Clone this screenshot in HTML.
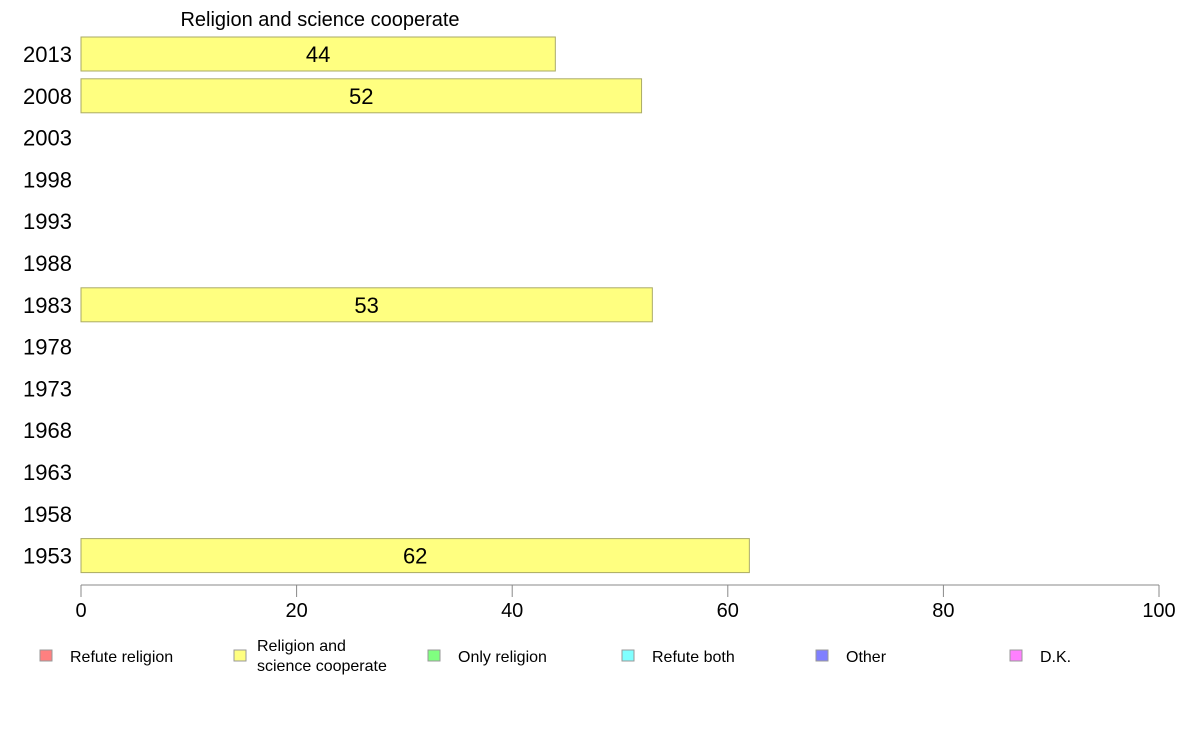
<!DOCTYPE html>
<html><head><meta charset="utf-8"><style>
body{margin:0;background:#fff;font-family:"Liberation Sans",Arial,sans-serif}
svg text{font-family:"Liberation Sans",Arial,sans-serif}
</style></head><body>
<svg id="chart" width="1188" height="736" xmlns="http://www.w3.org/2000/svg">
<text x="320" y="26" font-size="20" text-anchor="middle">Religion and science cooperate</text>
<g id="bars"></g><g id="ylabels"></g><g id="xaxis"></g><g id="legend"></g>
</svg>
<script>
const years=["2013","2008","2003","1998","1993","1988","1983","1978","1973","1968","1963","1958","1953"];
const values=[44,52,null,null,null,null,53,null,null,null,null,null,62];
const xTicks=[0,20,40,60,80,100];
const legendLabels=[["Refute religion"],["Religion and","science cooperate"],["Only religion"],["Refute both"],["Other"],["D.K."]];
const legendColors=["#ff8080","#ffff80","#80ff80","#80ffff","#8080ff","#ff80ff"];
const NS="http://www.w3.org/2000/svg";
const x=v=>81+v*10.78;
const yc=i=>54+i*41.8;
const bh=34;
function mk(t,a,p){const e=document.createElementNS(NS,t);for(const k in a)e.setAttribute(k,a[k]);p.appendChild(e);return e;}
const gb=document.getElementById('bars'),gy=document.getElementById('ylabels'),gx=document.getElementById('xaxis'),gl=document.getElementById('legend');
years.forEach((yr,i)=>{
 const t=mk('text',{x:72,y:yc(i)+8,'font-size':22,'text-anchor':'end'},gy);t.textContent=yr;
 
 
 const v=values[i];
 if(v!=null){
  const r=mk('rect',{x:x(0),y:yc(i)-bh/2,width:x(v)-x(0),height:bh,fill:'#ffff80',stroke:'#aaaa66','stroke-width':1},gb);
  
  
  const l=mk('text',{x:(x(0)+x(v))/2,y:yc(i)+8,'font-size':22,'text-anchor':'middle'},gb);l.textContent=v;
  
  
 }
});
const ax=mk('line',{x1:x(0),x2:x(100),y1:585,y2:585,stroke:'#888'},gx);


xTicks.forEach(v=>{
 const tk=mk('line',{x1:x(v),x2:x(v),y1:585,y2:597,stroke:'#888'},gx);
 
 
 const t=mk('text',{x:x(v),y:617,'font-size':20,'text-anchor':'middle'},gx);t.textContent=v;
 
 
});
legendLabels.forEach((lab,i)=>{
 const lx=40+i*194;
 const s=mk('rect',{x:lx,y:650,width:12,height:11,fill:legendColors[i],stroke:'#999'},gl);
 
 
 const t=mk('text',{x:lx+30,'font-size':16},gl);
 
 
 if(lab.length==1){t.setAttribute('y',662);t.textContent=lab[0];}
 else lab.forEach((ln,j)=>{const ts=mk('tspan',{x:lx+23,y:651+j*20},t);ts.textContent=ln;});
});
</script>
</body></html>
